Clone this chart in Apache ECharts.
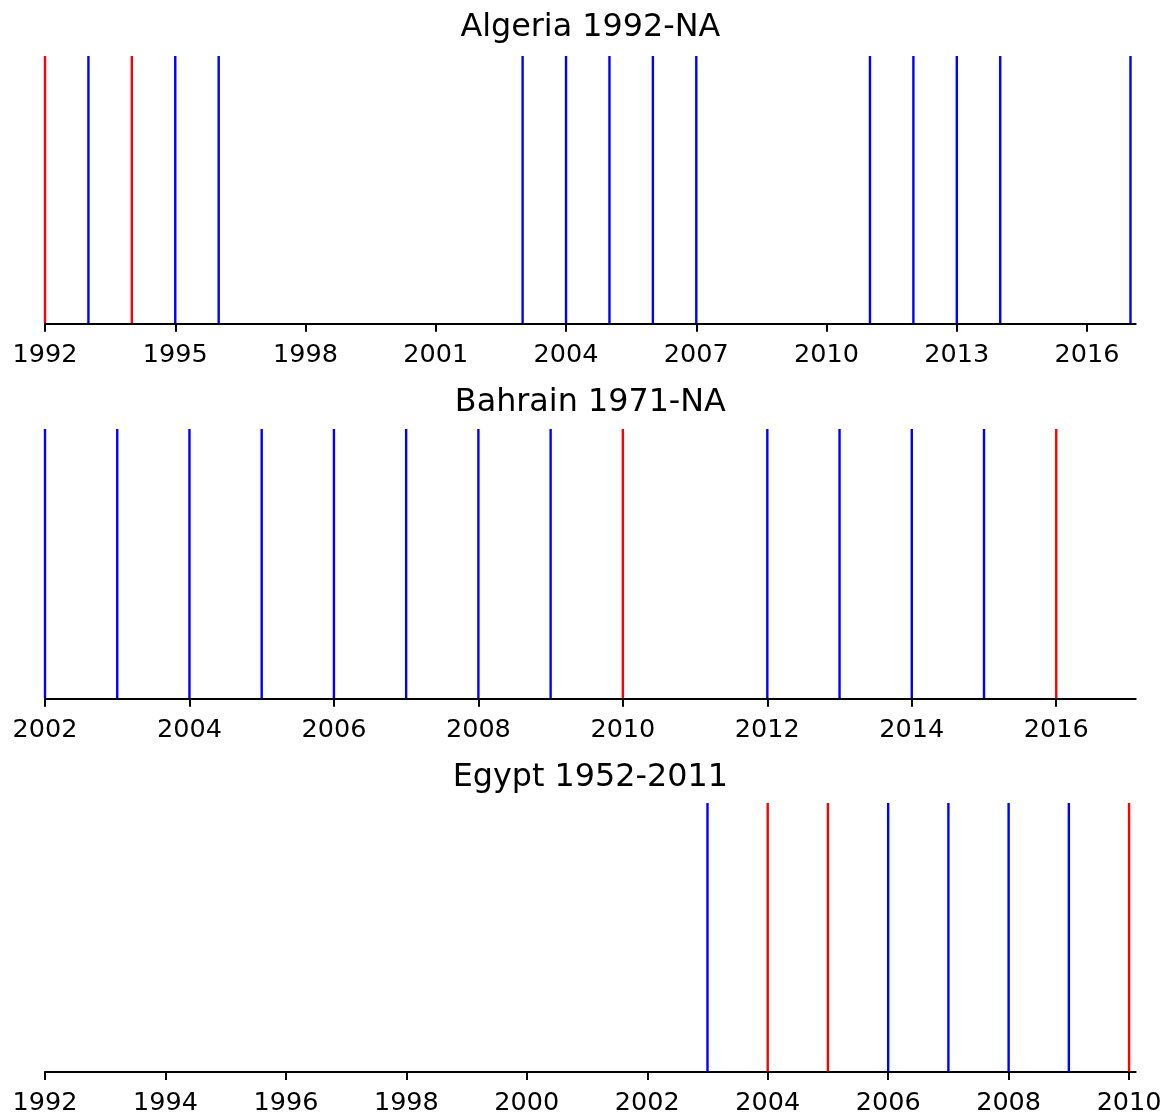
<!DOCTYPE html>
<html>
<head>
<meta charset="utf-8">
<script src="https://cdn.jsdelivr.net/npm/echarts@6/dist/echarts.min.js"></script>
<style>
html,body{margin:0;padding:0;background:#fff;}
#chart{width:1169px;height:1120px;}
</style>
</head>
<body>
<div id="chart"></div>
<script>
// Panel titles
const titles = ['Algeria 1992-NA', 'Bahrain 1971-NA', 'Egypt 1952-2011'];

// Event years per panel, split by event type (blue / red)
const algeriaBlue = [1993, 1995, 1996, 2003, 2004, 2005, 2006, 2007, 2011, 2012, 2013, 2014, 2017];
const algeriaRed = [1992, 1994];
const bahrainBlue = [2002, 2003, 2004, 2005, 2006, 2007, 2008, 2009, 2012, 2013, 2014, 2015];
const bahrainRed = [2010, 2016];
const egyptBlue = [2003, 2006, 2007, 2008, 2009];
const egyptRed = [2004, 2005, 2010];

// Axis ranges
const algeriaRange = [1992, 2017.12];
const bahrainRange = [2002, 2017.1];
const egyptRange = [1992, 2010.11];

// Tick labels
const algeriaTicks = [1992, 1995, 1998, 2001, 2004, 2007, 2010, 2013, 2016];
const bahrainTicks = [2002, 2004, 2006, 2008, 2010, 2012, 2014, 2016];
const egyptTicks = [1992, 1994, 1996, 1998, 2000, 2002, 2004, 2006, 2008, 2010];

const panels = [
  {blue: algeriaBlue, red: algeriaRed, range: algeriaRange, ticks: algeriaTicks},
  {blue: bahrainBlue, red: bahrainRed, range: bahrainRange, ticks: bahrainTicks},
  {blue: egyptBlue, red: egyptRed, range: egyptRange, ticks: egyptTicks}
];

const FONT = 'DejaVu Sans';
const gridTops = [56, 429, 803];
const gridHeights = [267.3, 269.3, 268.5];
const titleY = [27.5, 403, 778];
const LEFT = 45, WIDTH = 1090.7;

function eventRender(color) {
  return function (params, api) {
    const x = api.value(0);
    const p0 = api.coord([x, 0]);
    const p1 = api.coord([x, 1]);
    return {
      type: 'line',
      shape: {x1: p0[0], y1: p0[1], x2: p1[0], y2: p1[1]},
      style: {stroke: color, lineWidth: 2.4}
    };
  };
}

const grid = [], xAxis = [], yAxis = [], series = [], graphic = [];
panels.forEach((p, i) => {
  grid.push({left: LEFT, width: WIDTH, top: gridTops[i], height: gridHeights[i]});
  xAxis.push({
    type: 'value', gridIndex: i, min: p.range[0], max: p.range[1],
    splitLine: {show: false},
    axisLine: {show: true, lineStyle: {color: '#000', width: 2}},
    axisTick: {show: true, length: 8.5, lineStyle: {color: '#000', width: 2}, customValues: p.ticks},
    axisLabel: {show: true, color: '#000', fontSize: 25.5, fontFamily: FONT, margin: 19,
                customValues: p.ticks, formatter: v => String(v)}
  });
  yAxis.push({type: 'value', gridIndex: i, min: 0, max: 1, show: false});
  series.push({
    type: 'custom', xAxisIndex: i, yAxisIndex: i, renderItem: eventRender('#0000ff'),
    data: p.blue.map(v => [v]), silent: true
  });
  series.push({
    type: 'custom', xAxisIndex: i, yAxisIndex: i, renderItem: eventRender('#ff0000'),
    data: p.red.map(v => [v]), silent: true
  });
  graphic.push({
    type: 'text', x: LEFT + WIDTH / 2, y: titleY[i],
    style: {text: titles[i], fill: '#000', fontSize: 31.8, fontFamily: FONT,
            align: 'center', verticalAlign: 'middle'}
  });
});

const chart = echarts.init(document.getElementById('chart'), null, {renderer: 'canvas'});
chart.setOption({
  animation: false,
  backgroundColor: '#fff',
  grid, xAxis, yAxis, series, graphic
});
</script>
</body>
</html>
